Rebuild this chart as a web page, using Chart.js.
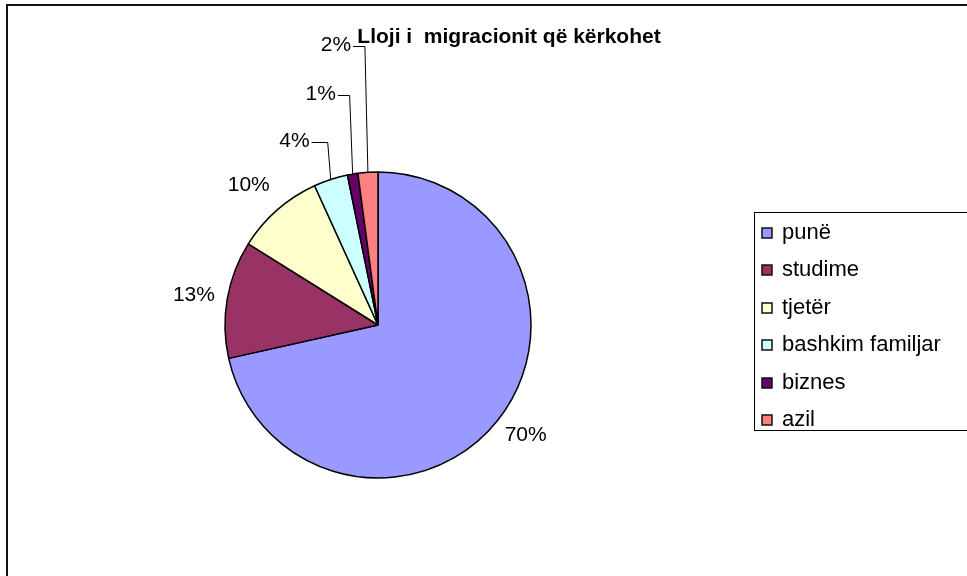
<!DOCTYPE html>
<html>
<head>
<meta charset="utf-8">
<script src="https://cdn.jsdelivr.net/npm/chart.js@4.4.0/dist/chart.umd.min.js"></script>
<style>
  html, body { margin: 0; padding: 0; background: #fff; }
  #wrap { width: 967px; height: 576px; }
</style>
</head>
<body>
<div id="wrap"><canvas id="pie" width="967" height="576"></canvas></div>
<script>
const judul = 'Lloji i  migracionit që kërkohet';
const kategori = ['punë', 'studime', 'tjetër', 'bashkim familjar', 'biznes', 'azil'];
const nilai = [71.5, 12.4, 9.3, 3.6, 1.1, 2.1];
const labelPersen = ['70%', '13%', '10%', '4%', '1%', '2%'];
const warna = ['#9999FF', '#993366', '#FFFFCC', '#CCFFFF', '#660066', '#FF8080'];

const FONT = '"Liberation Sans", Arial, sans-serif';

// posisi label relatif ke pusat pie, dalam satuan radius; true = pakai garis penunjuk
const posLabel = [
    [0.965, 0.723, false],
    [-1.203, -0.193, false],
    [-0.845, -0.915, false],
    [-0.546, -1.203, true],
    [-0.375, -1.51, true],
    [-0.275, -1.83, true]
];

const bingkaiPlugin = {
    id: 'bingkai',
    beforeDraw(chart) {
        const ctx = chart.ctx;
        ctx.save();
        ctx.fillStyle = '#fff';
        ctx.fillRect(0, 0, chart.width, chart.height);
        ctx.strokeStyle = '#111';
        ctx.lineWidth = 2;
        ctx.strokeRect(7, 5, chart.width + 20, chart.height + 20);
        ctx.restore();
    }
};

const labelPlugin = {
    id: 'labelPie',
    afterDatasetsDraw(chart) {
        const ctx = chart.ctx;
        const arcs = chart.getDatasetMeta(0).data;
        ctx.save();
        ctx.font = '21px ' + FONT;
        ctx.fillStyle = '#000';
        ctx.textAlign = 'center';
        ctx.textBaseline = 'middle';
        arcs.forEach((arc, i) => {
            const { x, y, startAngle, endAngle, outerRadius } = arc.getProps(['x', 'y', 'startAngle', 'endAngle', 'outerRadius'], true);
            const [ox, oy, garis] = posLabel[i];
            const lx = x + ox * outerRadius;
            const ly = y + oy * outerRadius;
            ctx.fillText(labelPersen[i], lx, ly);
            if (garis) {
                const mid = (startAngle + endAngle) / 2;
                const ex = x + Math.cos(mid) * outerRadius;
                const ey = y + Math.sin(mid) * outerRadius;
                const w = ctx.measureText(labelPersen[i]).width;
                ctx.beginPath();
                ctx.strokeStyle = '#000';
                ctx.lineWidth = 1;
                ctx.moveTo(lx + w / 2 + 2, Math.round(ly) + 1.5);
                ctx.lineTo(ex - 3, Math.round(ly) + 1.5);
                ctx.lineTo(ex, ey);
                ctx.stroke();
            }
        });

        // judul
        ctx.font = 'bold 21px ' + FONT;
        ctx.textBaseline = 'alphabetic';
        ctx.fillText(judul, 509, 43);
        ctx.restore();
    }
};

const legendPlugin = {
    id: 'legendKanan',
    afterDraw(chart) {
        const ctx = chart.ctx;
        ctx.save();
        ctx.strokeStyle = '#000';
        ctx.lineWidth = 1;
        ctx.strokeRect(754.5, 212.5, 300, 218);
        ctx.font = '22px ' + FONT;
        ctx.textBaseline = 'middle';
        ctx.textAlign = 'left';
        kategori.forEach((nama, i) => {
            const yy = Math.round(233 + i * 37.4);
            ctx.fillStyle = warna[i];
            ctx.fillRect(762, yy - 5, 10, 10);
            ctx.lineWidth = 1.5;
            ctx.strokeStyle = '#111';
            ctx.strokeRect(762, yy - 5, 10, 10);
            ctx.fillStyle = '#000';
            ctx.fillText(nama, 782, yy);
        });
        ctx.restore();
    }
};

new Chart(document.getElementById('pie'), {
    type: 'pie',
    data: {
        labels: kategori,
        datasets: [{
            data: nilai,
            backgroundColor: warna,
            borderColor: '#000',
            borderWidth: 1.5,
            radius: 153
        }]
    },
    options: {
        responsive: false,
        animation: false,
        layout: { padding: { left: 225, right: 436, top: 172, bottom: 98 } },
        plugins: {
            legend: { display: false },
            title: { display: false },
            tooltip: { enabled: false }
        }
    },
    plugins: [bingkaiPlugin, labelPlugin, legendPlugin]
});
</script>
</body>
</html>
